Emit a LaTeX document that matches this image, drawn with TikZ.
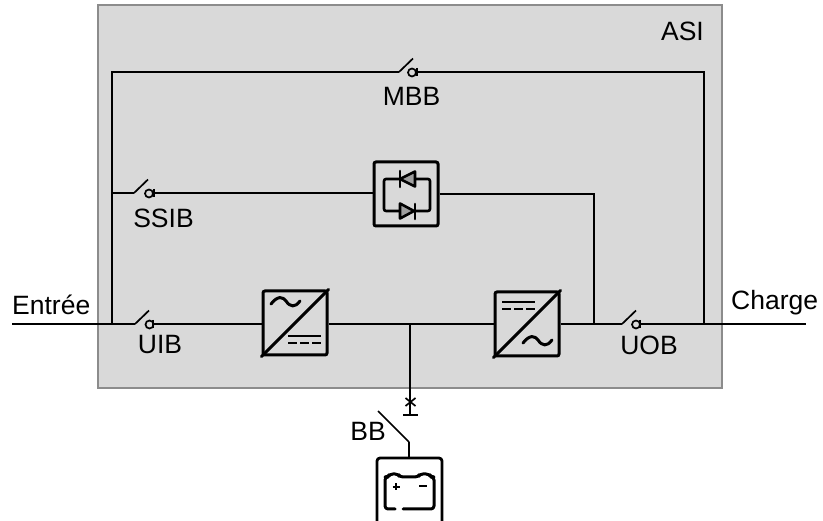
\documentclass[tikz,border=0pt]{standalone}
\usepackage{fontspec}
\setmainfont{Liberation Sans}
\definecolor{asigray}{HTML}{D9D9D9}
\definecolor{asiedge}{HTML}{8C8C8C}
\tikzset{
    wire/.style={line width=1.7pt},
    thick wire/.style={line width=3pt,line cap=round,line join=round},
    unitbox/.style={draw,line width=3pt,rounded corners=2pt,minimum size=64pt,inner sep=0pt},
    contact/.style={circle,draw,line width=1.7pt,minimum size=8pt,inner sep=0pt},
    tag/.style={font=\fontsize{26.5}{29}\selectfont,inner sep=0pt},
    diode/.style={draw,fill=gray!75,line width=2.6pt,line join=round}
}
\begin{document}
\begin{tikzpicture}[x=1pt,y=-1pt]
                \useasboundingbox (0,0) rectangle (823,521);

                % cabinet
                \node[draw=asiedge,fill=asigray,line width=1.5pt,minimum width=624pt,minimum height=383pt,inner sep=0pt] (asi) at (410,196.5) {};
                \node[tag,anchor=east] (asitag) at (704,31) {ASI};

                % units
                \node[unitbox] (rect) at (295,323) {};
                \node[unitbox] (inv) at (527,324) {};
                \node[unitbox] (stat) at (406,194) {};

                % junctions
                \coordinate (inl) at (12,324);
                \coordinate (outr) at (806,324);
                \coordinate (jleft) at (112,324);
                \coordinate (jtop) at (112,72);
                \coordinate (jtopr) at (704,72);
                \coordinate (jright) at (704,324);
                \coordinate (jssi) at (112,193);
                \coordinate (jstat) at (594,194);
                \coordinate (jout) at (594,324);
                \coordinate (jbat) at (410,324);
                \coordinate (tbar) at (410,415);
                \coordinate (bblade) at (409,442);
                \coordinate (btop) at (409,458);

                % switches
                \coordinate (mbbl) at (399,72);
                \coordinate (mbbr) at (417,72);
                \node[contact] (mbbc) at (412,72.5) {};
                \coordinate (ssil) at (134,193);
                \coordinate (ssir) at (154,193);
                \node[contact] (ssic) at (149,193.5) {};
                \coordinate (uibl) at (135,324);
                \coordinate (uibr) at (153,324);
                \node[contact] (uibc) at (149.5,324.5) {};
                \coordinate (uobl) at (622,324);
                \coordinate (uobr) at (640,324);
                \node[contact] (uobc) at (636,324.5) {};

                \draw[wire] (inl)--(uibl);
                \draw[wire] (uibr)--(uibr-|rect.west);
                \draw[wire] (rect.east|-jbat)--(inv.west|-jbat);
                \draw[wire] (inv.east)--(uobl);
                \draw[wire] (uobr)--(outr);
                \draw[wire] (jleft)--(jtop)--(mbbl);
                \draw[wire] (mbbr)--(jtopr)--(jright);
                \draw[wire] (jssi)--(ssil);
                \draw[wire] (ssir)--(ssir-|stat.west);
                \draw[wire] (stat.east)--(jstat)--(jout);
                \draw[wire] (jbat)--(tbar);
                \draw[wire] (bblade)--(btop);

                \draw[wire] (mbbl)--++(14,-13.5);
                \draw[wire] (ssil)--++(14,-13.5);
                \draw[wire] (uibl)--++(14,-13.5);
                \draw[wire] (uobl)--++(14,-13.5);
                \draw[wire] (mbbr)++(0,-4)--++(0,8);
                \draw[wire] (uibr)++(0,-4)--++(0,8);
                \draw[wire] (uobr)++(0,-4)--++(0,8);
                \draw[wire] (ssir)++(0,-4)--++(0,8);

                % rectifier and inverter marks
                \draw[thick wire] (rect.south west)--(rect.north east);
                \draw[thick wire] (271,304) .. controls (278,295) and (283,297) .. (286,301) .. controls (290,307) and (295,308) .. (300,301);
                \draw[wire,line width=2.4pt] (288,336)--(321,336);
                \draw[wire,line width=2.4pt,dash pattern=on 9pt off 3pt] (288,343)--(321,343);
                \draw[thick wire] (inv.south west)--(inv.north east);
                \draw[thick wire] (523,343) .. controls (530,334) and (535,336) .. (538,340) .. controls (542,346) and (547,347) .. (552,340);
                \draw[wire,line width=2.4pt] (502,302)--(535,302);
                \draw[wire,line width=2.4pt,dash pattern=on 9pt off 3pt] (502,309)--(535,309);

                % thyristors
                \draw[thick wire,line width=2.6pt,rounded corners=2pt] (400,179)--(384,179)--(384,211)--(400,211);
                \draw[thick wire,line width=2.6pt,rounded corners=2pt] (415,179)--(430,179)--(430,211)--(415,211);
                \draw[diode] (400,179)--(415,171.5)--(415,186.5)--cycle;
                \draw[diode] (400,203.5)--(400,218.5)--(414,211)--cycle;
                \draw[thick wire,line width=2.6pt] (400,171)--(400,187);
                \draw[thick wire,line width=2.6pt] (415,204)--(415,219);

                % battery branch
                \draw[wire] (405.5,398)--(415.5,406);
                \draw[wire] (405.5,406)--(415.5,398);
                \draw[wire] (403,415)--(418,415);
                \draw[wire] (378,411)--(bblade);
                \draw[thick wire,line width=2.8pt,rounded corners=3pt] (377,521)--(377,458)--(442,458)--(442,521);
                \draw[thick wire,rounded corners=3pt] (395,509)--(385,509)--(385,477)--(388,477)--(390,474)--(398,474)--(400,477)--(418,477)--(420,474)--(429,474)--(431,477)--(434,477)--(434,509)--(403,509);
                \draw[wire,line width=2.2pt] (392.5,487)--(399.5,487);
                \draw[wire,line width=2.2pt] (396,483.5)--(396,490.5);
                \draw[wire,line width=2.6pt] (419,486)--(427,486);

                % labels
                \node[tag,anchor=west] (entree) at (12,305) {Entrée};
                \node[tag,anchor=west] (charge) at (731,303) {Charge};
                \node[tag] (mbbtag) at (411.5,96) {MBB};
                \node[tag] (ssitag) at (163.5,218) {SSIB};
                \node[tag] (uibtag) at (160,345) {UIB};
                \node[tag] (uobtag) at (649,345) {UOB};
                \node[tag] (bbtag) at (368,431) {BB};

\end{tikzpicture}
\end{document}
